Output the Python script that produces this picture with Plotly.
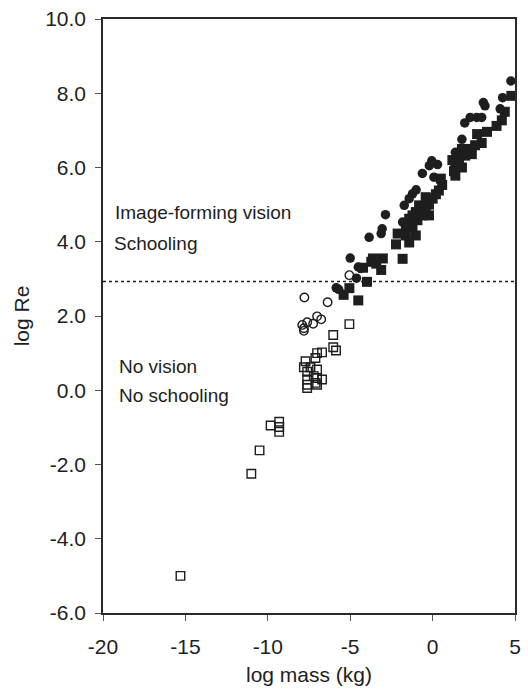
import plotly.graph_objects as go

# Reynolds number vs body mass, grouped by vision / schooling behaviour
# Filled circles: schooling species with image-forming vision
circ_filled_mass = [4.75, 4.25, 3.08, 3.18, 4.10, 2.28, 2.68, 2.98, 1.95, 1.78, 1.38,
                    -0.05, -0.20, -0.62, 0.08, -1.22, -1.42, -1.72, -2.86, -3.06, -3.12,
                    -3.85, -1.82, -5.00, -4.51, -4.35, -4.62, -5.85, -5.70, -1.00, 0.30]
circ_filled_re = [8.33, 7.88, 7.75, 7.66, 7.58, 7.35, 7.35, 7.35, 7.20, 6.76, 6.41,
                  6.18, 6.05, 5.84, 5.74, 5.29, 5.16, 4.98, 4.73, 4.35, 4.22,
                  4.12, 4.53, 3.56, 3.32, 3.28, 3.02, 2.76, 2.72, 5.40, 6.08]

# Filled squares: image-forming vision, non-schooling
sq_filled_mass = [4.78, 4.38, 4.20, 3.88, 3.30, 2.70, 2.98, 2.58, 2.38, 2.18, 1.78, 1.98,
                  1.58, 1.38, 1.20, 1.60, 1.78, 1.30, 1.38, 0.58, 0.38, 0.20, 0.00, -0.22,
                  -0.42, -0.22, -0.62, -0.82, -1.02, -0.92, -1.22, -1.42, -1.22, -1.62,
                  -1.02, -1.62, -2.12, -2.22, -1.42, -1.82, -3.62, -3.02, -3.42, -3.12,
                  -4.22, -3.72, -3.98, -5.05, -5.40, -4.51, -0.42, 0.50]
sq_filled_re = [7.93, 7.50, 7.27, 7.12, 6.96, 6.90, 6.66, 6.60, 6.36, 6.50, 6.50, 6.32,
                6.30, 6.14, 6.20, 6.12, 6.00, 5.90, 5.78, 5.53, 5.38, 5.28, 5.16, 5.00,
                4.89, 4.71, 4.71, 4.98, 4.80, 4.58, 4.71, 4.62, 4.42, 4.40,
                4.17, 4.17, 4.22, 3.93, 3.98, 3.54, 3.55, 3.55, 3.41, 3.24,
                3.30, 3.46, 2.92, 2.75, 2.57, 2.42, 5.20, 5.70]

# Open circles: no image-forming vision, schooling
circ_open_mass = [-7.78, -6.37, -7.91, -7.61, -7.81, -7.25, -7.01, -6.76, -7.81, -5.05]
circ_open_re = [2.50, 2.37, 1.76, 1.83, 1.67, 1.79, 1.99, 1.91, 1.60, 3.10]

# Open squares: no vision, no schooling
sq_open_mass = [-15.3, -11.0, -10.5, -9.83, -9.31, -9.31, -9.31, -5.05, -6.03, -6.03,
                -5.86, -7.01, -6.71, -7.11, -7.71, -7.81, -7.41, -7.01, -7.61, -7.21,
                -6.71, -7.01, -7.61, -7.61, -7.01, -7.61, -7.10]
sq_open_re = [-5.00, -2.25, -1.62, -0.95, -0.85, -0.99, -1.12, 1.78, 1.49, 1.16,
              1.07, 1.00, 1.02, 0.87, 0.78, 0.62, 0.62, 0.56, 0.50, 0.38,
              0.29, 0.33, 0.29, 0.15, 0.15, 0.06, 0.20]

# Threshold between the two behavioural regimes
threshold_re = 2.93

x_ticks = [-20, -15, -10, -5, 0, 5]
x_tick_text = ["-20", "-15", "-10", "-5", "0", "5"]
y_ticks = [10, 8, 6, 4, 2, 0, -2, -4, -6]
y_tick_text = ["10.0", "8.0", "6.0", "4.0", "2.0", "0.0", "-2.0", "-4.0", "-6.0"]

INK = "#1e1e1e"
FONT = "Liberation Sans, Arial, Helvetica, sans-serif"

fig = go.Figure()
fig.add_trace(go.Scatter(x=sq_open_mass, y=sq_open_re, mode="markers",
                         marker=dict(symbol="square-open", size=8.5, color=INK,
                                     line=dict(width=1.4, color=INK))))
fig.add_trace(go.Scatter(x=circ_open_mass, y=circ_open_re, mode="markers",
                         marker=dict(symbol="circle-open", size=8.5, color=INK,
                                     line=dict(width=1.4, color=INK))))
fig.add_trace(go.Scatter(x=sq_filled_mass, y=sq_filled_re, mode="markers",
                         marker=dict(symbol="square", size=10, color=INK,
                                     line=dict(width=0))))
fig.add_trace(go.Scatter(x=circ_filled_mass, y=circ_filled_re, mode="markers",
                         marker=dict(symbol="circle", size=9.5, color=INK,
                                     line=dict(width=0))))

fig.add_shape(type="line", xref="x", yref="y", x0=-20, x1=5,
              y0=threshold_re, y1=threshold_re,
              line=dict(color=INK, width=1.5, dash="dot"))

labels = [("Image-forming vision", -19.4, 4.8),
          ("Schooling", -19.45, 3.94),
          ("No vision", -19.15, 0.65),
          ("No schooling", -19.15, -0.13)]
for text, lx, ly in labels:
    fig.add_annotation(x=lx, y=ly, xref="x", yref="y", text=text, showarrow=False,
                       xanchor="left", yanchor="middle",
                       font=dict(family=FONT, size=19, color=INK))

axis_common = dict(showgrid=False, zeroline=False, showline=True, linecolor="#2a2a2a",
                   linewidth=1.5, mirror=True, ticks="outside", ticklen=6,
                   tickcolor="#555", tickwidth=1,
                   tickfont=dict(family=FONT, size=21, color=INK))

fig.update_layout(
    width=528, height=692,
    margin=dict(l=103, r=7, t=16, b=79),
    paper_bgcolor="white", plot_bgcolor="white",
    showlegend=False,
    xaxis=dict(range=[-20, 5], tickvals=x_ticks, ticktext=x_tick_text,
               ticklabelstandoff=8,
               title=dict(text="log mass (kg)", font=dict(family=FONT, size=21, color=INK),
                          standoff=10),
               **axis_common),
    yaxis=dict(range=[-6, 10], tickvals=y_ticks, ticktext=y_tick_text,
               ticklabelstandoff=5,
               title=dict(text="log Re", font=dict(family=FONT, size=21, color=INK),
                          standoff=10),
               **axis_common),
)

fig.write_html("out.html")
